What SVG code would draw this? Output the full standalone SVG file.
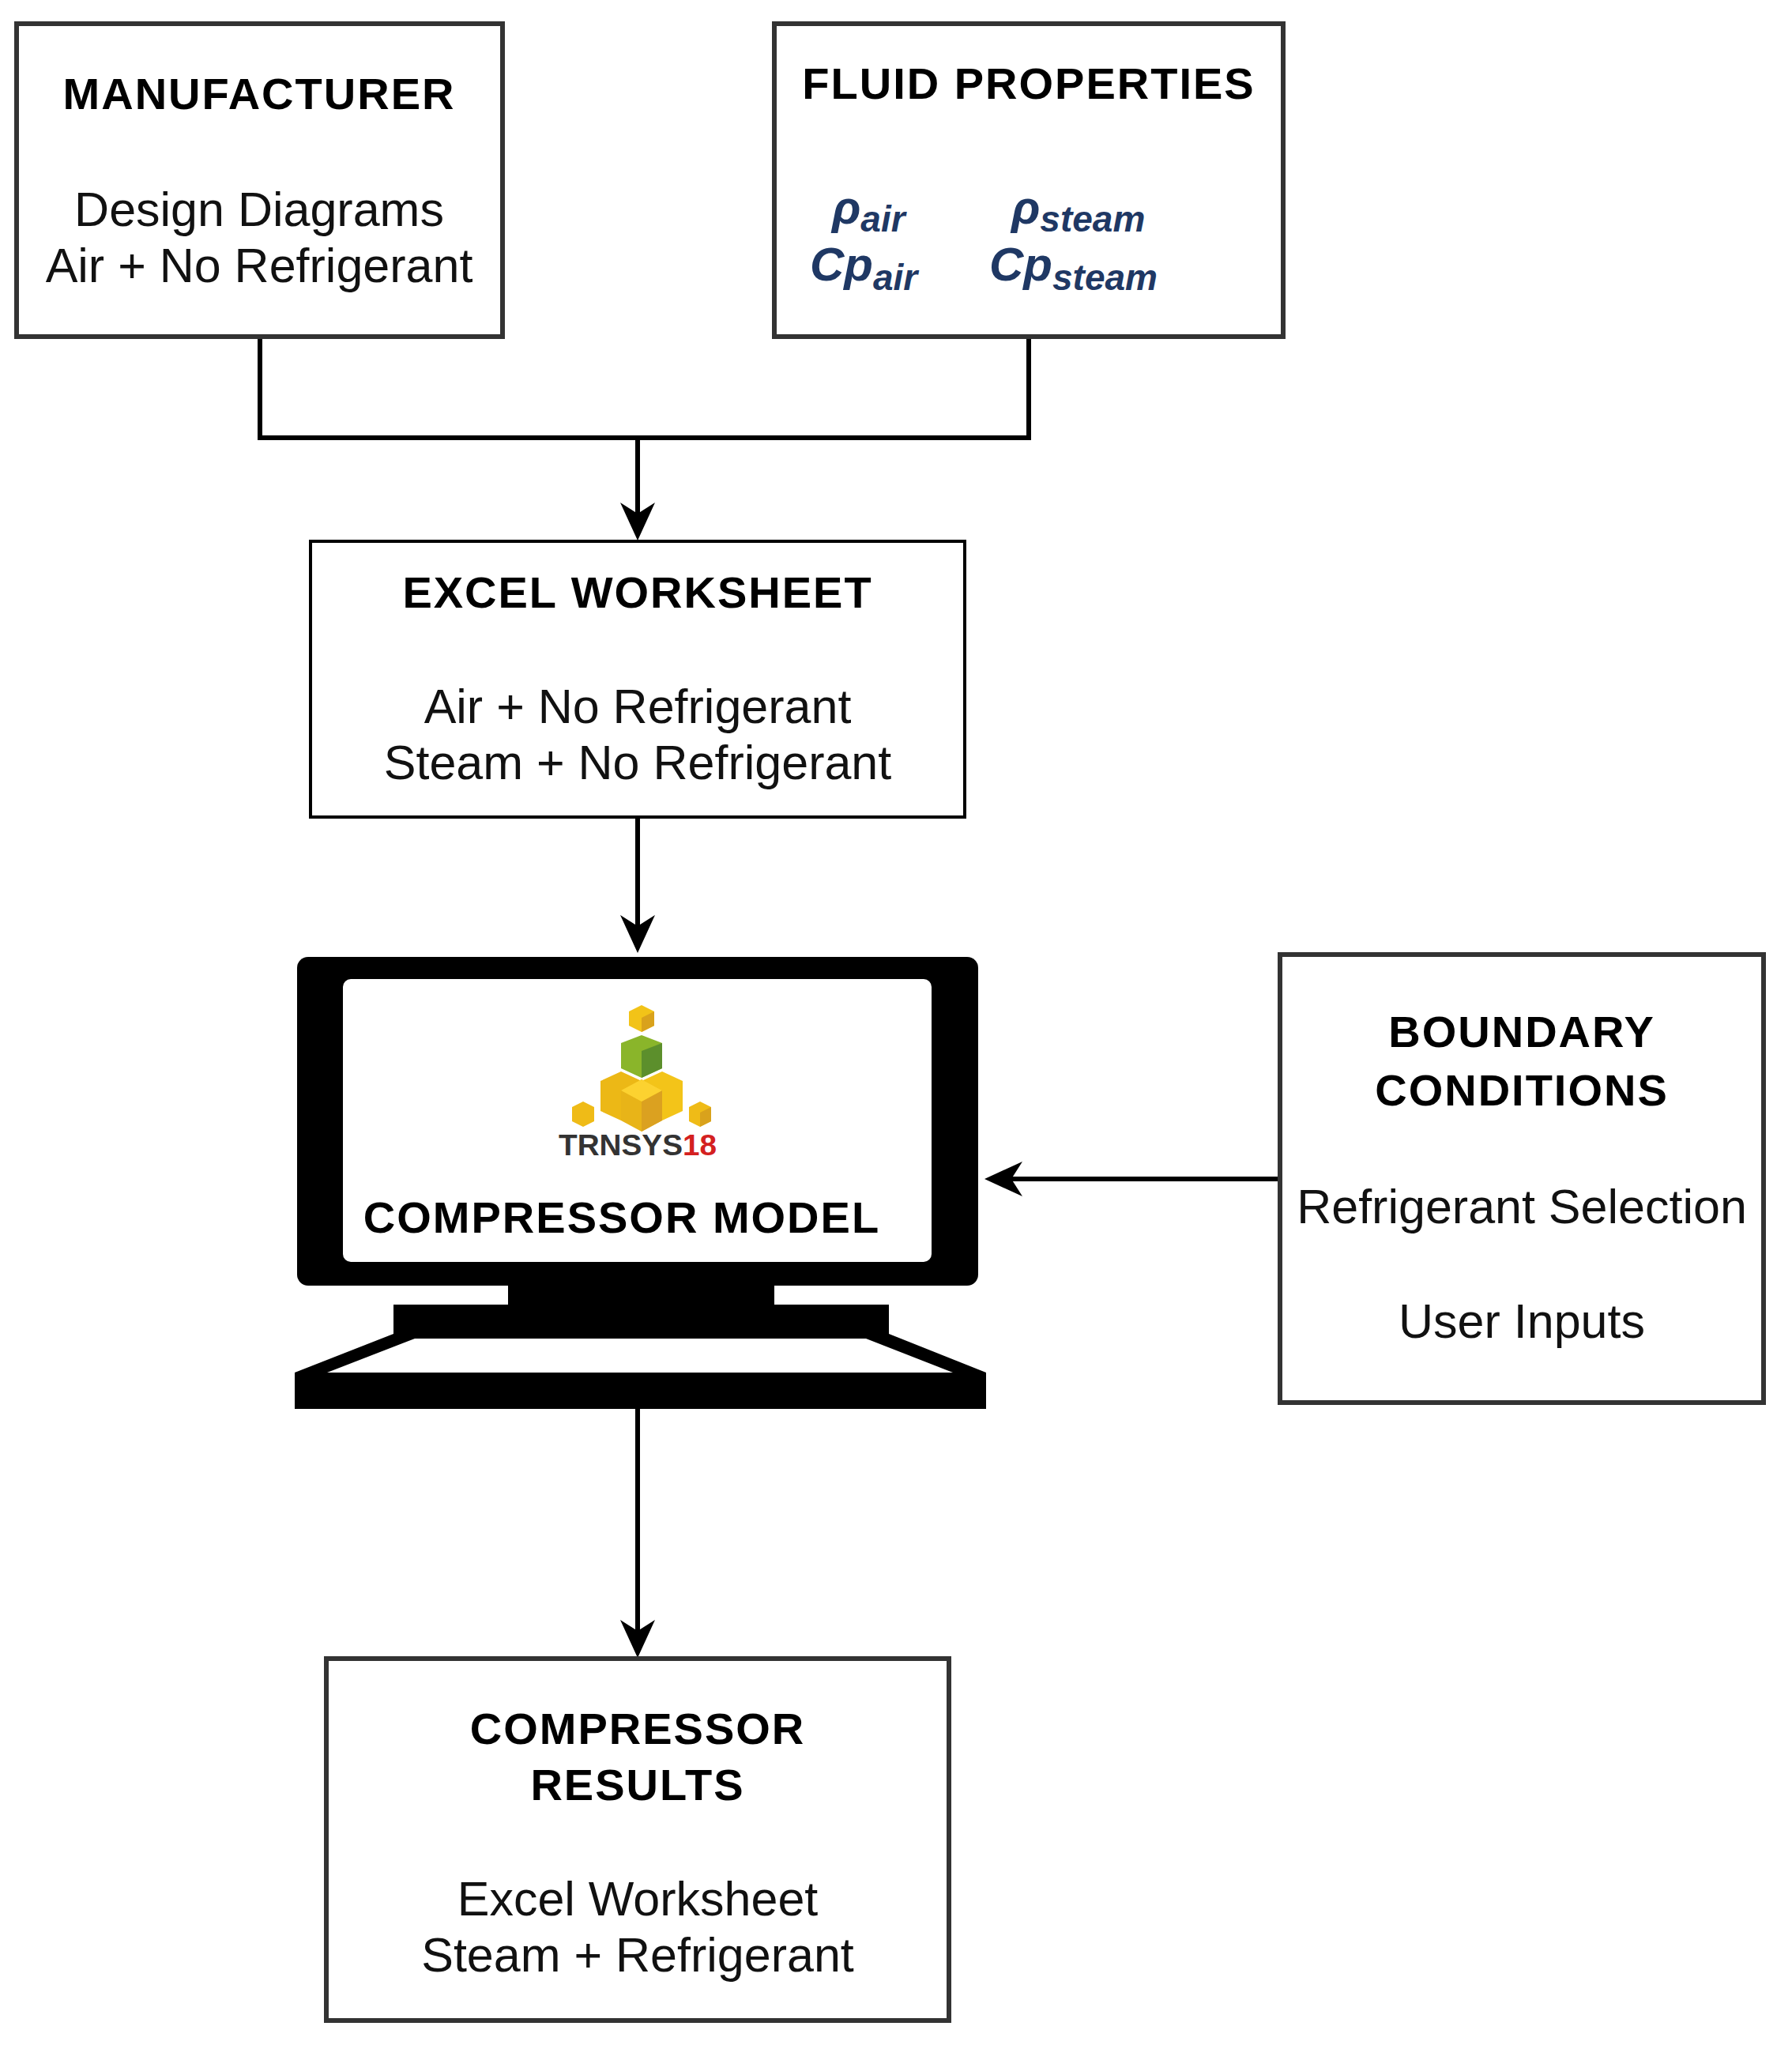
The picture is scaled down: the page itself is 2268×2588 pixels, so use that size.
<svg xmlns="http://www.w3.org/2000/svg" width="2268" height="2588" viewBox="0 0 2268 2588">
<style>
.box{fill:#fff;stroke:#333;stroke-width:6}
.b{font-family:"Liberation Sans",Arial,sans-serif;font-weight:bold;font-size:56px;fill:#000;text-anchor:middle;letter-spacing:2px}
.t{font-family:"Liberation Sans",Arial,sans-serif;font-size:61px;fill:#111;text-anchor:middle}
.s{font-family:"Liberation Sans",Arial,sans-serif;font-style:italic;font-weight:bold;font-size:60px;fill:#1f3864}
.c{fill:none;stroke:#000;stroke-width:6}
</style>
<rect width="2268" height="2588" fill="#fff"/>
<g id="connectors">
<path class="c" d="M329 426V554H1302V426"/>
<path class="c" d="M807 554V660"/>
<path d="M785 636L807 684L829 636L807 650Z" fill="#000"/>
<path class="c" d="M807 1034V1182"/>
<path d="M785 1158L807 1206L829 1158L807 1172Z" fill="#000"/>
<path class="c" d="M1620 1492H1270"/>
<path d="M1294 1470L1246 1492L1294 1514L1280 1492Z" fill="#000"/>
<path class="c" d="M807 1783V2072"/>
<path d="M785 2050L807 2098L829 2050L807 2064Z" fill="#000"/>
</g>
<g id="manufacturer">
<rect class="box" x="21" y="30" width="615" height="396"/>
<text class="b" x="328" y="138">MANUFACTURER</text>
<text class="t" x="328" y="286">Design Diagrams</text>
<text class="t" x="328" y="357">Air + No Refrigerant</text>
</g>
<g id="fluid">
<rect class="box" x="980" y="30" width="644" height="396"/>
<text class="b" x="1302" y="125">FLUID PROPERTIES</text>
<text class="s" x="1053" y="283">ρ<tspan font-size="46" dy="10">air</tspan></text>
<text class="s" x="1025" y="355">Cp<tspan font-size="46" dy="12">air</tspan></text>
<text class="s" x="1280" y="283">ρ<tspan font-size="46" dy="10">steam</tspan></text>
<text class="s" x="1252" y="355">Cp<tspan font-size="46" dy="12">steam</tspan></text>
</g>
<g id="excel">
<rect x="393" y="685" width="828" height="349" fill="#fff" stroke="#000" stroke-width="4"/>
<text class="b" x="807" y="769">EXCEL WORKSHEET</text>
<text class="t" x="807" y="915">Air + No Refrigerant</text>
<text class="t" x="807" y="986">Steam + No Refrigerant</text>
</g>
<g id="compressor">
<rect x="376" y="1211" width="862" height="416" rx="14" fill="#000"/>
<rect x="434" y="1239" width="745" height="358" rx="10" fill="#fff"/>
<rect x="643" y="1620" width="337" height="35" fill="#000"/>
<rect x="498" y="1651" width="627" height="40" fill="#000"/>
<path d="M498 1688H1125L1248 1737V1783H373V1737Z" fill="#000"/>
<path d="M525 1694H1096L1206 1737H414Z" fill="#fff"/>
<g id="logo">
<path d="M812 1272l16 8v18l-16 8-16-8v-18z" fill="#f2c318"/><path d="M812 1288l16-8v18l-16 8z" fill="#d9a21c"/>
<path d="M812 1310l26 10v32l-26 12-26-12v-32z" fill="#8ab52a"/><path d="M812 1330l26-10v32l-26 12z" fill="#5c8f2c"/>
<path d="M760 1368l26-12 26 12v38l-26 12-26-12z" fill="#ecb816"/>
<path d="M864 1368l-26-12-26 12v38l26 12 26-12z" fill="#f3c419"/>
<path d="M786 1380l26-14 26 14v38l-26 14-26-14z" fill="#e8b418"/>
<path d="M812 1394l26-14v38l-26 14z" fill="#dba120"/><path d="M786 1380l26-14 26 14-26 14z" fill="#fcd230"/>
<path d="M738 1394l14 7v18l-14 7-14-7v-18z" fill="#efbb17"/>
<path d="M886 1394l14 7v18l-14 7-14-7v-18z" fill="#efbb17"/><path d="M886 1408l14-7v18l-14 7z" fill="#d9a21c"/>
<text x="707" y="1462" font-family="'Liberation Sans',sans-serif" font-weight="bold" font-size="36" fill="#333" textLength="200" lengthAdjust="spacingAndGlyphs">TRNSYS<tspan fill="#d42020">18</tspan></text>
</g>
<text class="b" x="787" y="1560" font-size="58">COMPRESSOR MODEL</text>
</g>
<g id="boundary">
<rect class="box" x="1620" y="1208" width="612" height="567"/>
<text class="b" x="1926" y="1325">BOUNDARY</text>
<text class="b" x="1926" y="1399">CONDITIONS</text>
<text class="t" x="1926" y="1548">Refrigerant Selection</text>
<text class="t" x="1926" y="1693">User Inputs</text>
</g>
<g id="results">
<rect class="box" x="413" y="2099" width="788" height="458"/>
<text class="b" x="807" y="2207">COMPRESSOR</text>
<text class="b" x="807" y="2278">RESULTS</text>
<text class="t" x="807" y="2424">Excel Worksheet</text>
<text class="t" x="807" y="2495">Steam + Refrigerant</text>
</g>
</svg>
